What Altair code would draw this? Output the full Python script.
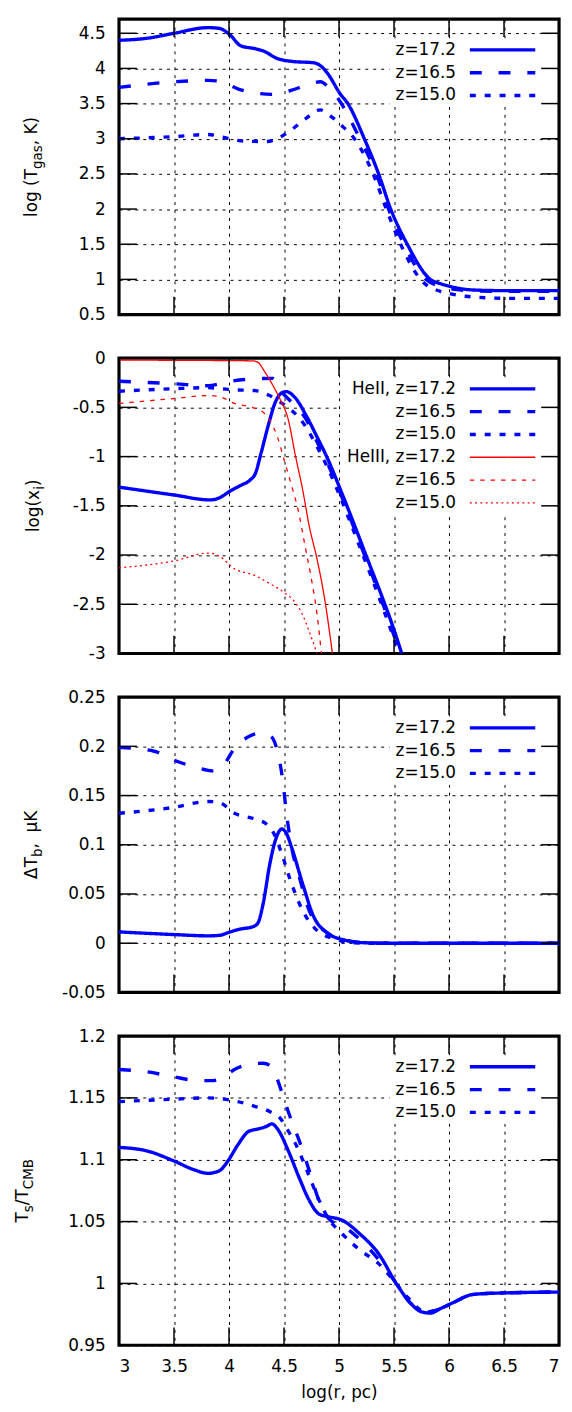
import altair as alt
import pandas as pd

FONT = "DejaVu Sans"
FS = 17
W = 444
HEIGHTS = [298, 298, 298, 312]
TICK_LEN = 18

X_TICKS = [3, 3.5, 4, 4.5, 5, 5.5, 6, 6.5, 7]

# ---------------- Panel 1: log T_gas ----------------
T172_X = [3.0, 3.26, 3.5, 3.81, 3.91, 4.0, 4.11, 4.24, 4.31, 4.44, 4.57, 4.77, 4.83, 4.90, 5.01, 5.08, 5.23, 5.36, 5.47, 5.62, 5.83, 5.92, 6.01, 6.21, 6.5, 7.0]
T172_Y = [4.40, 4.43, 4.50, 4.58, 4.57, 4.49, 4.32, 4.28, 4.25, 4.14, 4.10, 4.08, 4.04, 3.92, 3.64, 3.50, 3.00, 2.50, 2.00, 1.50, 1.00, 0.94, 0.90, 0.85, 0.84, 0.84]
T165_X = [3.0, 3.5, 3.81, 3.91, 4.08, 4.24, 4.41, 4.57, 4.70, 4.83, 4.90, 5.0, 5.19, 5.34, 5.45, 5.59, 5.79, 6.0, 6.2, 6.5, 7.0]
T165_Y = [3.73, 3.81, 3.83, 3.82, 3.71, 3.65, 3.63, 3.69, 3.76, 3.81, 3.74, 3.55, 3.00, 2.50, 2.00, 1.50, 1.00, 0.87, 0.84, 0.83, 0.83]
T150_X = [3.0, 3.5, 3.81, 3.98, 4.11, 4.34, 4.45, 4.57, 4.70, 4.83, 4.91, 5.0, 5.14, 5.31, 5.43, 5.56, 5.74, 5.92, 6.0, 6.15, 6.54, 7.0]
T150_Y = [3.00, 3.03, 3.06, 3.01, 2.97, 2.96, 3.01, 3.13, 3.29, 3.41, 3.34, 3.22, 3.00, 2.50, 2.00, 1.50, 1.00, 0.83, 0.80, 0.76, 0.73, 0.73]

# ---------------- Panel 2: log x_i ----------------
HE2_172_X = [3.0, 3.5, 3.83, 3.91, 4.01, 4.11, 4.19, 4.24, 4.29, 4.36, 4.42, 4.47, 4.52, 4.60, 4.70, 4.80, 4.90, 5.0, 5.1, 5.2, 5.3, 5.4, 5.5, 5.57]
HE2_172_Y = [-1.31, -1.39, -1.44, -1.42, -1.35, -1.29, -1.24, -1.17, -0.97, -0.67, -0.45, -0.36, -0.34, -0.40, -0.58, -0.80, -1.03, -1.30, -1.58, -1.87, -2.16, -2.45, -2.76, -3.0]
HE2_165_X = [3.0, 3.5, 3.81, 4.01, 4.24, 4.40, 4.47, 4.57, 4.70, 4.80, 4.90, 5.0, 5.1, 5.2, 5.3, 5.4, 5.5, 5.56]
HE2_165_Y = [-0.235, -0.26, -0.28, -0.235, -0.21, -0.205, -0.33, -0.45, -0.62, -0.85, -1.08, -1.34, -1.62, -1.91, -2.20, -2.50, -2.82, -3.0]
HE2_150_X = [3.0, 3.5, 3.81, 4.01, 4.24, 4.37, 4.47, 4.57, 4.70, 4.80, 4.90, 5.0, 5.1, 5.2, 5.3, 5.4, 5.5, 5.55]
HE2_150_Y = [-0.336, -0.31, -0.30, -0.32, -0.33, -0.38, -0.45, -0.53, -0.70, -0.90, -1.12, -1.38, -1.66, -1.95, -2.24, -2.54, -2.85, -3.0]
HE3_172_X = [3.0, 4.21, 4.26, 4.32, 4.41, 4.47, 4.54, 4.60, 4.67, 4.73, 4.80, 4.87, 4.94]
HE3_172_Y = [-0.02, -0.027, -0.04, -0.13, -0.30, -0.43, -0.63, -0.97, -1.34, -1.71, -2.04, -2.45, -3.0]
HE3_165_X = [3.0, 3.5, 3.81, 3.91, 4.05, 4.21, 4.31, 4.37, 4.44, 4.50, 4.57, 4.63, 4.69, 4.75, 4.80, 4.84]
HE3_165_Y = [-0.46, -0.41, -0.38, -0.39, -0.46, -0.50, -0.55, -0.63, -0.80, -1.03, -1.30, -1.55, -1.90, -2.25, -2.60, -3.0]
HE3_150_X = [3.0, 3.5, 3.81, 3.91, 4.05, 4.24, 4.37, 4.50, 4.60, 4.67, 4.73, 4.80]
HE3_150_Y = [-2.13, -2.06, -1.98, -2.01, -2.14, -2.21, -2.29, -2.38, -2.48, -2.61, -2.78, -3.0]

# ---------------- Panel 3: Delta T_b ----------------
DT172_X = [3.0, 3.5, 3.81, 3.91, 4.01, 4.11, 4.21, 4.26, 4.31, 4.37, 4.42, 4.48, 4.52, 4.57, 4.67, 4.77, 4.90, 5.06, 5.23, 5.5, 7.0]
DT172_Y = [0.0115, 0.0088, 0.0075, 0.008, 0.0115, 0.0145, 0.0165, 0.020, 0.040, 0.080, 0.104, 0.116, 0.112, 0.097, 0.060, 0.027, 0.010, 0.003, 0.0005, 0.0, 0.0]
DT165_X = [3.0, 3.32, 3.5, 3.72, 3.85, 3.95, 4.05, 4.18, 4.27, 4.37, 4.44, 4.49, 4.52, 4.57, 4.64, 4.73, 4.90, 5.06, 5.3, 7.0]
DT165_Y = [0.199, 0.195, 0.186, 0.178, 0.175, 0.181, 0.198, 0.210, 0.213, 0.211, 0.195, 0.164, 0.134, 0.097, 0.067, 0.033, 0.010, 0.003, 0.0, 0.0]
DT150_X = [3.0, 3.5, 3.81, 3.91, 4.05, 4.24, 4.34, 4.41, 4.47, 4.57, 4.67, 4.80, 4.97, 5.10, 5.3, 7.0]
DT150_Y = [0.132, 0.138, 0.144, 0.143, 0.132, 0.126, 0.121, 0.111, 0.094, 0.060, 0.033, 0.013, 0.004, 0.0005, 0.0, 0.0]

# ---------------- Panel 4: T_s / T_CMB ----------------
TS172_X = [3.0, 3.26, 3.5, 3.68, 3.81, 3.91, 3.99, 4.08, 4.18, 4.27, 4.34, 4.39, 4.44, 4.54, 4.64, 4.73, 4.82, 4.90, 5.03, 5.19, 5.36, 5.52, 5.65, 5.75, 5.83, 5.93, 6.05, 6.21, 6.38, 7.0]
TS172_Y = [1.110, 1.107, 1.099, 1.092, 1.089, 1.091, 1.099, 1.112, 1.123, 1.125, 1.127, 1.129, 1.125, 1.107, 1.085, 1.067, 1.056, 1.054, 1.051, 1.040, 1.024, 1.000, 0.984, 0.977, 0.976, 0.980, 0.985, 0.991, 0.992, 0.993]
TS165_X = [3.0, 3.26, 3.5, 3.72, 3.85, 3.95, 4.05, 4.18, 4.31, 4.39, 4.44, 4.50, 4.57, 4.64, 4.73, 4.83, 4.91, 5.06, 5.23, 5.39, 5.52, 5.65, 5.82, 5.93, 6.05, 6.21, 6.38, 7.0]
TS165_Y = [1.173, 1.171, 1.167, 1.164, 1.164, 1.167, 1.173, 1.177, 1.178, 1.175, 1.165, 1.149, 1.131, 1.115, 1.091, 1.064, 1.052, 1.045, 1.032, 1.016, 1.000, 0.984, 0.977, 0.980, 0.985, 0.991, 0.992, 0.993]
TS150_X = [3.0, 3.5, 3.81, 3.95, 4.08, 4.24, 4.37, 4.47, 4.54, 4.61, 4.71, 4.81, 4.90, 5.03, 5.19, 5.36, 5.49, 5.62, 5.79, 5.93, 6.05, 6.21, 6.38, 7.0]
TS150_Y = [1.147, 1.149, 1.150, 1.149, 1.147, 1.143, 1.139, 1.133, 1.123, 1.112, 1.091, 1.069, 1.053, 1.040, 1.027, 1.016, 1.003, 0.989, 0.977, 0.980, 0.985, 0.991, 0.992, 0.993]

# series keys and styles
KEYS = ["17.2", "16.5", "15.0", "HeIII 17.2", "HeIII 16.5", "HeIII 15.0"]
COLORS = ["#0000ff", "#0000ff", "#0000ff", "#ff0000", "#ff0000", "#ff0000"]
DASHES = [[1, 0], [12, 17], [6, 9], [1, 0], [4.5, 6], [2, 3.3]]
WIDTHS = [3.4, 3.4, 3.4, 1.3, 1.3, 1.3]

Z_LABELS = ["z=17.2", "z=16.5", "z=15.0"]
HE_LABELS = ["HeII, z=17.2", "z=16.5", "z=15.0", "HeIII, z=17.2", "z=16.5", "z=15.0"]

# approximate DejaVu Sans advance widths (em) for laying out titles
ADV = {' ': 0.318, '\u00a0': 0.318, '(': 0.390, ')': 0.390, ',': 0.318, '.': 0.318,
       '/': 0.337, '=': 0.838, 'l': 0.278, 'o': 0.612, 'g': 0.635, 'T': 0.611,
       'K': 0.656, 'x': 0.592, 'i': 0.278, 'a': 0.613, 's': 0.521, 'b': 0.635,
       'C': 0.698, 'M': 0.863, 'B': 0.686, '\u0394': 0.684, '\u03bc': 0.636,
       'z': 0.525, 'H': 0.752, 'e': 0.615, 'I': 0.295}
for d in "0123456789":
    ADV[d] = 0.636


def text_len(s, size):
    return sum(ADV.get(c, 0.6) for c in s) * size


ONE = pd.DataFrame({"k": [0]})

cs = alt.Scale(domain=KEYS, range=COLORS)
ds = alt.Scale(domain=KEYS, range=DASHES)
ws = alt.Scale(type="ordinal", domain=KEYS, range=WIDTHS)


def long_df(series):
    rows = []
    for key, xs, ys in series:
        for a, b in zip(xs, ys):
            rows.append({"x": a, "y": b, "key": key})
    return pd.DataFrame(rows)


def title_marks(segs, base_x, center_y):
    sub = FS * 0.8
    lens = [text_len(t, sub if s else FS) for t, s in segs]
    y = center_y + sum(lens) / 2
    out = []
    for (t, s), L in zip(segs, lens):
        out.append(
            alt.Chart(ONE).mark_text(
                text=t, angle=270, align="left", baseline="alphabetic",
                fontSize=sub if s else FS, font=FONT, color="black"
            ).encode(x=alt.value(base_x + (0.3 * FS if s else 0)), y=alt.value(y))
        )
        y -= L
    return out


def make_panel(idx, series, ydom, yticks, keys, labels, segs, title_x, show_x):
    h = HEIGHTS[idx]
    xs = alt.Scale(domain=[3, 7], nice=False, zero=False)
    ys = alt.Scale(domain=ydom, nice=False, zero=False)
    if show_x:
        xaxis = alt.Axis(values=X_TICKS, grid=True, ticks=False, tickSize=0, domain=False,
                         labelExpr="'' + datum.value", labelPadding=13, titlePadding=11)
        xtitle = "log(r, pc)"
    else:
        xaxis = alt.Axis(values=X_TICKS, grid=True, ticks=False, tickSize=0, domain=False,
                         labels=False)
        xtitle = None
    yaxis = alt.Axis(values=yticks, grid=True, ticks=False, tickSize=0, domain=False,
                     labelExpr="'' + datum.value", labelPadding=14)

    df = long_df(series)
    lines = alt.Chart(df).mark_line(interpolate="monotone", clip=True).encode(
        x=alt.X("x:Q", scale=xs, axis=xaxis, title=xtitle),
        y=alt.Y("y:Q", scale=ys, axis=yaxis, title=None),
        color=alt.Color("key:N", scale=cs, legend=None),
        strokeDash=alt.StrokeDash("key:N", scale=ds, legend=None),
        strokeWidth=alt.StrokeWidth("key:N", scale=ws, legend=None),
    )

    n = len(keys)
    row0, dy = 31, 23
    text_right, s0, s1 = 340, 354, 420
    leg = pd.DataFrame({"key": keys, "label": labels, "row": list(range(n))})
    lys = alt.Scale(domain=[0, max(n - 1, 1)], range=[row0, row0 + dy * max(n - 1, 1)])
    maxw = max(text_len(l, FS) for l in labels)
    box = alt.Chart(ONE).mark_rect(color="white").encode(
        x=alt.value(text_right - maxw - 6), x2=alt.value(W - 2),
        y=alt.value(row0 - dy / 2), y2=alt.value(row0 + dy * (n - 1) + dy / 2),
    )
    leg_rule = alt.Chart(leg).mark_rule().encode(
        x=alt.value(s0), x2=alt.value(s1),
        y=alt.Y("row:Q", scale=lys, axis=None),
        color=alt.Color("key:N", scale=cs, legend=None),
        strokeDash=alt.StrokeDash("key:N", scale=ds, legend=None),
        strokeWidth=alt.StrokeWidth("key:N", scale=ws, legend=None),
    )
    leg_text = alt.Chart(leg).mark_text(
        align="right", baseline="middle", fontSize=FS, font=FONT, color="black"
    ).encode(
        x=alt.value(text_right),
        y=alt.Y("row:Q", scale=lys, axis=None),
        text="label:N",
    )

    xt = pd.DataFrame({"v": X_TICKS})
    yt = pd.DataFrame({"v": yticks})
    tick_style = dict(color="black", strokeWidth=1.5)
    xt_bot = alt.Chart(xt).mark_rule(**tick_style).encode(
        x=alt.X("v:Q", scale=xs, axis=xaxis, title=xtitle), y=alt.value(h), y2=alt.value(h - TICK_LEN))
    xt_top = alt.Chart(xt).mark_rule(**tick_style).encode(
        x=alt.X("v:Q", scale=xs, axis=xaxis, title=xtitle), y=alt.value(0), y2=alt.value(TICK_LEN))
    yt_left = alt.Chart(yt).mark_rule(**tick_style).encode(
        y=alt.Y("v:Q", scale=ys, axis=None), x=alt.value(0), x2=alt.value(TICK_LEN))
    yt_right = alt.Chart(yt).mark_rule(**tick_style).encode(
        y=alt.Y("v:Q", scale=ys, axis=None), x=alt.value(W - TICK_LEN), x2=alt.value(W))

    titles = title_marks(segs, title_x, h / 2)
    return alt.layer(
        box, lines, leg_rule, leg_text, xt_bot, xt_top, yt_left, yt_right, *titles
    ).resolve_scale(y="independent").properties(width=W, height=h)


p1 = make_panel(
    0,
    [("17.2", T172_X, T172_Y), ("16.5", T165_X, T165_Y), ("15.0", T150_X, T150_Y)],
    [0.5, 4.7], [0.5, 1, 1.5, 2, 2.5, 3, 3.5, 4, 4.5],
    KEYS[:3], Z_LABELS,
    [("log (T", False), ("gas", True), (", K)", False)], -83, False,
)
p2 = make_panel(
    1,
    [("17.2", HE2_172_X, HE2_172_Y), ("16.5", HE2_165_X, HE2_165_Y), ("15.0", HE2_150_X, HE2_150_Y),
     ("HeIII 17.2", HE3_172_X, HE3_172_Y), ("HeIII 16.5", HE3_165_X, HE3_165_Y),
     ("HeIII 15.0", HE3_150_X, HE3_150_Y)],
    [-3, 0], [-3, -2.5, -2, -1.5, -1, -0.5, 0],
    KEYS, HE_LABELS,
    [("log(x", False), ("i", True), (")", False)], -81, False,
)
p3 = make_panel(
    2,
    [("17.2", DT172_X, DT172_Y), ("16.5", DT165_X, DT165_Y), ("15.0", DT150_X, DT150_Y)],
    [-0.05, 0.25], [-0.05, 0, 0.05, 0.1, 0.15, 0.2, 0.25],
    KEYS[:3], Z_LABELS,
    [("\u0394T", False), ("b", True), (",\u00a0\u00a0\u03bcK", False)], -83, False,
)
p4 = make_panel(
    3,
    [("17.2", TS172_X, TS172_Y), ("16.5", TS165_X, TS165_Y), ("15.0", TS150_X, TS150_Y)],
    [0.95, 1.2], [0.95, 1, 1.05, 1.1, 1.15, 1.2],
    KEYS[:3], Z_LABELS,
    [("T", False), ("s", True), ("/T", False), ("CMB", True)], -92, True,
)

chart = alt.vconcat(p1, p2, p3, p4, spacing=44, bounds="flush").properties(
    padding={"left": 4, "top": 2, "right": 2, "bottom": 0}
).configure_view(
    stroke="black", strokeWidth=3.2
).configure_axis(
    labelFont=FONT, labelFontSize=FS, labelColor="black",
    titleFont=FONT, titleFontSize=FS, titleColor="black", titleFontWeight="normal",
    gridColor="black", gridDash=[3, 5], gridWidth=1, gridOpacity=1,
)

chart.save("out.html", embed_options={"renderer": "svg", "actions": False})
